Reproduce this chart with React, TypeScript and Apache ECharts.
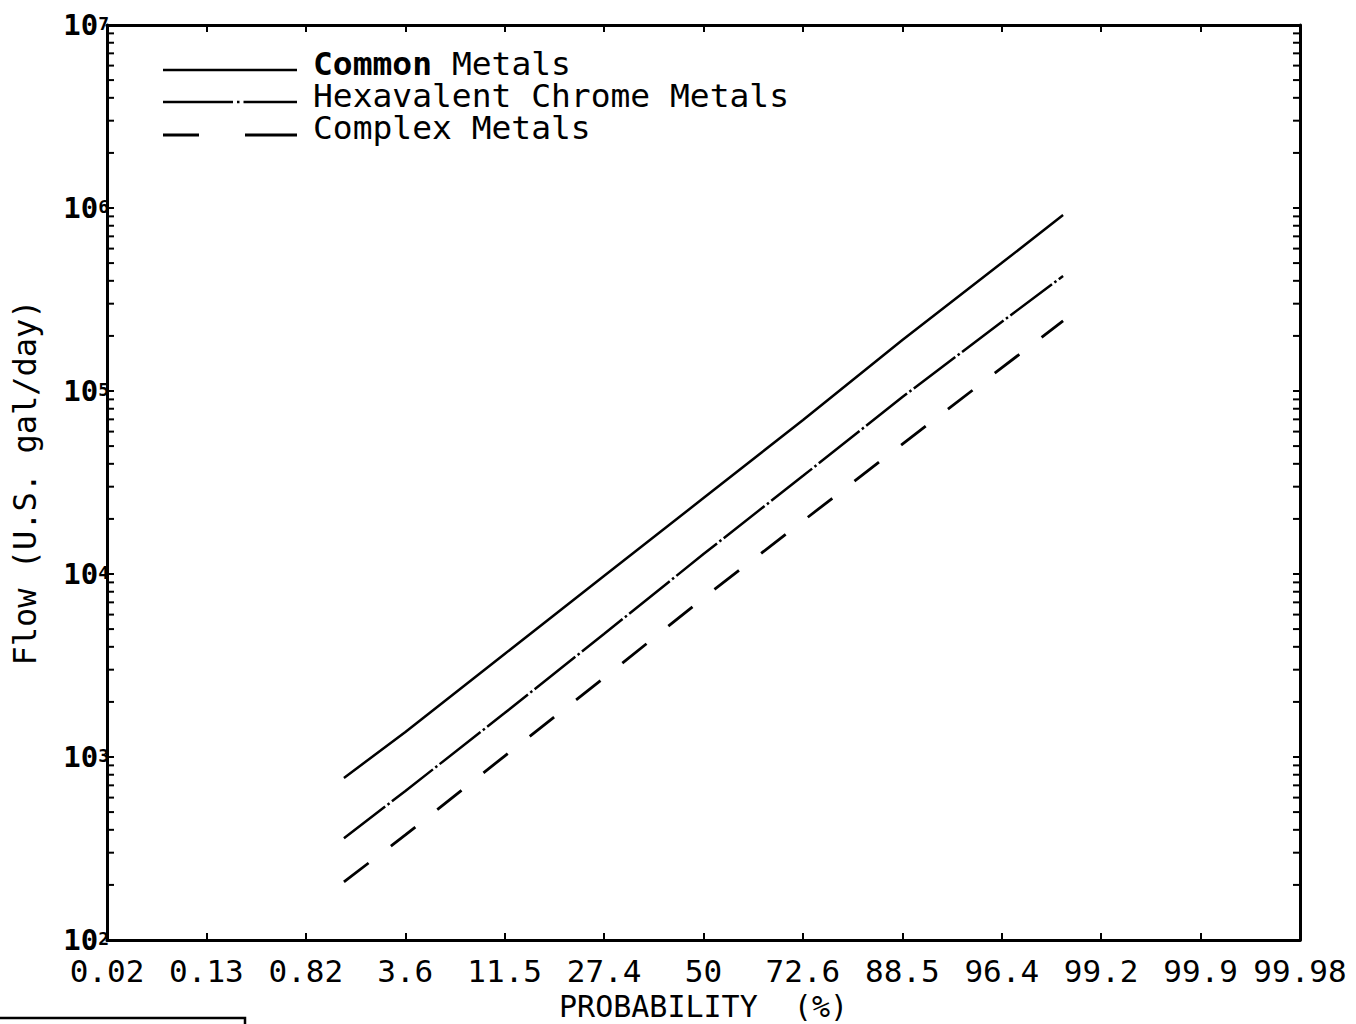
import React, { useEffect, useRef } from "react";
import * as echarts from "echarts";

// ---- data ----
const PROB_LABELS = ["0.02", "0.13", "0.82", "3.6", "11.5", "27.4", "50", "72.6", "88.5", "96.4", "99.2", "99.9", "99.98"];
const PROBS = [1.5, 3.6, 11.5, 27.4, 50, 72.6, 88.5, 96.4, 98.5]; // % probability
const COMMON = [768, 1371, 3656, 9750, 26000, 69500, 190000, 500000, 916000];
const HEXAVALENT = [360, 652, 1738, 4700, 12850, 34400, 92700, 238000, 425000];
const COMPLEX = [208, 375, 1012, 2703, 7400, 19500, 51300, 133700, 241500];
const MINOR_MULT = [2, 3, 4, 5, 6, 7, 8, 9];
const DECADES = [1e2, 1e3, 1e4, 1e5, 1e6];
const SIGMA_STEP = 0.6; // one label step = 0.6 standard deviations

const FONT = "DejaVu Sans Mono";

function probit(p: number): number {
  const a = [-3.969683028665376e1, 2.209460984245205e2, -2.759285104469687e2, 1.38357751867269e2, -3.066479806614716e1, 2.506628277459239];
  const b = [-5.447609879822406e1, 1.615858368580409e2, -1.556989798598866e2, 6.680131188771972e1, -1.328068155288572e1];
  const c = [-7.784894002430293e-3, -3.223964580411365e-1, -2.400758277161838, -2.549732539343734, 4.374664141464968, 2.938163982698783];
  const d = [7.784695709041462e-3, 3.224671290700398e-1, 2.445134137142996, 3.754408661907416];
  const plow = 0.02425;
  if (p < plow) {
    const q = Math.sqrt(-2 * Math.log(p));
    return (((((c[0] * q + c[1]) * q + c[2]) * q + c[3]) * q + c[4]) * q + c[5]) / ((((d[0] * q + d[1]) * q + d[2]) * q + d[3]) * q + 1);
  }
  if (p <= 1 - plow) {
    const q = p - 0.5;
    const r = q * q;
    return ((((((a[0] * r + a[1]) * r + a[2]) * r + a[3]) * r + a[4]) * r + a[5]) * q) / (((((b[0] * r + b[1]) * r + b[2]) * r + b[3]) * r + b[4]) * r + 1);
  }
  const q = Math.sqrt(-2 * Math.log(1 - p));
  return -(((((c[0] * q + c[1]) * q + c[2]) * q + c[3]) * q + c[4]) * q + c[5]) / ((((d[0] * q + d[1]) * q + d[2]) * q + d[3]) * q + 1);
}

const toX = (pct: number) => probit(pct / 100) / SIGMA_STEP;
const pairs = (vals: number[]) => PROBS.map((p, i) => [toX(p), vals[i]]);

export default function App() {
  const ref = useRef<HTMLDivElement>(null);
  useEffect(() => {
    if (!ref.current) return;
    const chart = echarts.init(ref.current, null, { renderer: "svg" });
    const minorTicks: number[][] = [];
    DECADES.forEach((dec) => MINOR_MULT.forEach((m) => minorTicks.push([-6, dec * m])));

    const axisLine = { show: true, onZero: false, lineStyle: { color: "#000", width: 3 } };
    const tick = { show: true, inside: true, length: 7, lineStyle: { color: "#000", width: 2 } };
    const lineBase = { type: "line", showSymbol: false, symbol: "none", smooth: false, clip: false, z: 3 };
    const legendText = { fontFamily: FONT, fontSize: 32, fill: "#000", verticalAlign: "middle", lineHeight: 26 };

    const option: any = {
      animation: false,
      backgroundColor: "#fff",
      grid: { left: 107, right: 56, top: 25, bottom: 84, containLabel: false, outerBoundsMode: "none" },
      xAxis: [
        {
          type: "value",
          position: "bottom",
          min: -6,
          max: 6,
          interval: 1,
          axisLine,
          axisTick: tick,
          splitLine: { show: false },
          axisLabel: {
            formatter: (v: number) => PROB_LABELS[Math.round(v) + 6] ?? "",
            fontFamily: FONT,
            fontSize: 31,
            lineHeight: 24,
            color: "#000",
            margin: 19,
            showMinLabel: true,
            showMaxLabel: true,
          },
          name: "PROBABILITY  (%)",
          nameLocation: "middle",
          nameGap: 49,
          nameTextStyle: { fontFamily: FONT, fontSize: 30, color: "#000", lineHeight: 24 },
        },
        {
          type: "value",
          position: "top",
          min: -6,
          max: 6,
          interval: 1,
          axisLine,
          axisTick: tick,
          splitLine: { show: false },
          axisLabel: { show: false },
        },
      ],
      yAxis: [
        {
          type: "log",
          logBase: 10,
          min: 100,
          max: 1e7,
          splitNumber: 5,
          position: "left",
          axisLine,
          axisTick: tick,
          splitLine: { show: false },
          axisLabel: {
            margin: -2,
            formatter: (v: number) => `{b|10}{s|${Math.round(Math.log10(v))}}`,
            rich: {
              b: { fontFamily: FONT, fontSize: 29, fontWeight: "bold", color: "#000", lineHeight: 22 },
              s: { fontFamily: FONT, fontSize: 18, fontWeight: "bold", color: "#000", lineHeight: 12, verticalAlign: "top" },
            },
          },
          name: "Flow (U.S. gal/day)",
          nameLocation: "middle",
          nameGap: 66,
          nameRotate: 90,
          nameTextStyle: { fontFamily: FONT, fontSize: 32, color: "#000" },
        },
        {
          type: "log",
          logBase: 10,
          min: 100,
          max: 1e7,
          splitNumber: 5,
          position: "right",
          axisLine,
          axisTick: tick,
          splitLine: { show: false },
          axisLabel: { show: false },
        },
      ],
      series: [
        { ...lineBase, name: "Common Metals", data: pairs(COMMON), lineStyle: { color: "#000", width: 2.5, type: "solid" } },
        { ...lineBase, name: "Hexavalent Chrome Metals", data: pairs(HEXAVALENT), lineStyle: { color: "#000", width: 2.5, type: [52, 3, 2.5, 3] } },
        { ...lineBase, name: "Complex Metals", data: pairs(COMPLEX), lineStyle: { color: "#000", width: 2.8, type: [31, 28] } },
        {
          type: "custom",
          name: "minor ticks",
          silent: true,
          clip: false,
          z: 4,
          data: minorTicks,
          renderItem: (_params: any, api: any) => {
            const v = api.value(1);
            const l = api.coord([-6, v]);
            const r = api.coord([6, v]);
            return {
              type: "group",
              children: [
                { type: "line", shape: { x1: l[0], y1: l[1], x2: l[0] + 7, y2: l[1] }, style: { stroke: "#000", lineWidth: 2 } },
                { type: "line", shape: { x1: r[0] - 7, y1: r[1], x2: r[0], y2: r[1] }, style: { stroke: "#000", lineWidth: 2 } },
              ],
            };
          },
        },
      ],
      graphic: [
        { type: "line", shape: { x1: 163, y1: 70, x2: 297, y2: 70 }, style: { stroke: "#000", lineWidth: 2.5 } },
        { type: "line", shape: { x1: 163, y1: 102, x2: 297, y2: 102 }, style: { stroke: "#000", lineWidth: 2.5, lineDash: [70, 4, 2.5, 4] } },
        { type: "line", shape: { x1: 163, y1: 135, x2: 297, y2: 135 }, style: { stroke: "#000", lineWidth: 2.8, lineDash: [36, 46, 60] } },
        {
          type: "text",
          x: 313,
          y: 64,
          scaleX: 1.03,
          style: {
            ...legendText,
            text: "{b|Common} Metals",
            rich: { b: { fontFamily: FONT, fontSize: 32, fontWeight: "bold", fill: "#000", lineHeight: 26 } },
          },
        },
        { type: "text", x: 313, y: 96, scaleX: 1.03, style: { ...legendText, text: "Hexavalent Chrome Metals" } },
        { type: "text", x: 313, y: 128, scaleX: 1.03, style: { ...legendText, text: "Complex Metals" } },
        { type: "rect", shape: { x: -3, y: 1018, width: 248, height: 20 }, style: { fill: "none", stroke: "#000", lineWidth: 2.5 } },
      ],
    };
    chart.setOption(option);
    return () => chart.dispose();
  }, []);
  return <div ref={ref} style={{ position: "absolute", left: 0, top: 0, width: 1356, height: 1024, background: "#fff" }} />;
}
